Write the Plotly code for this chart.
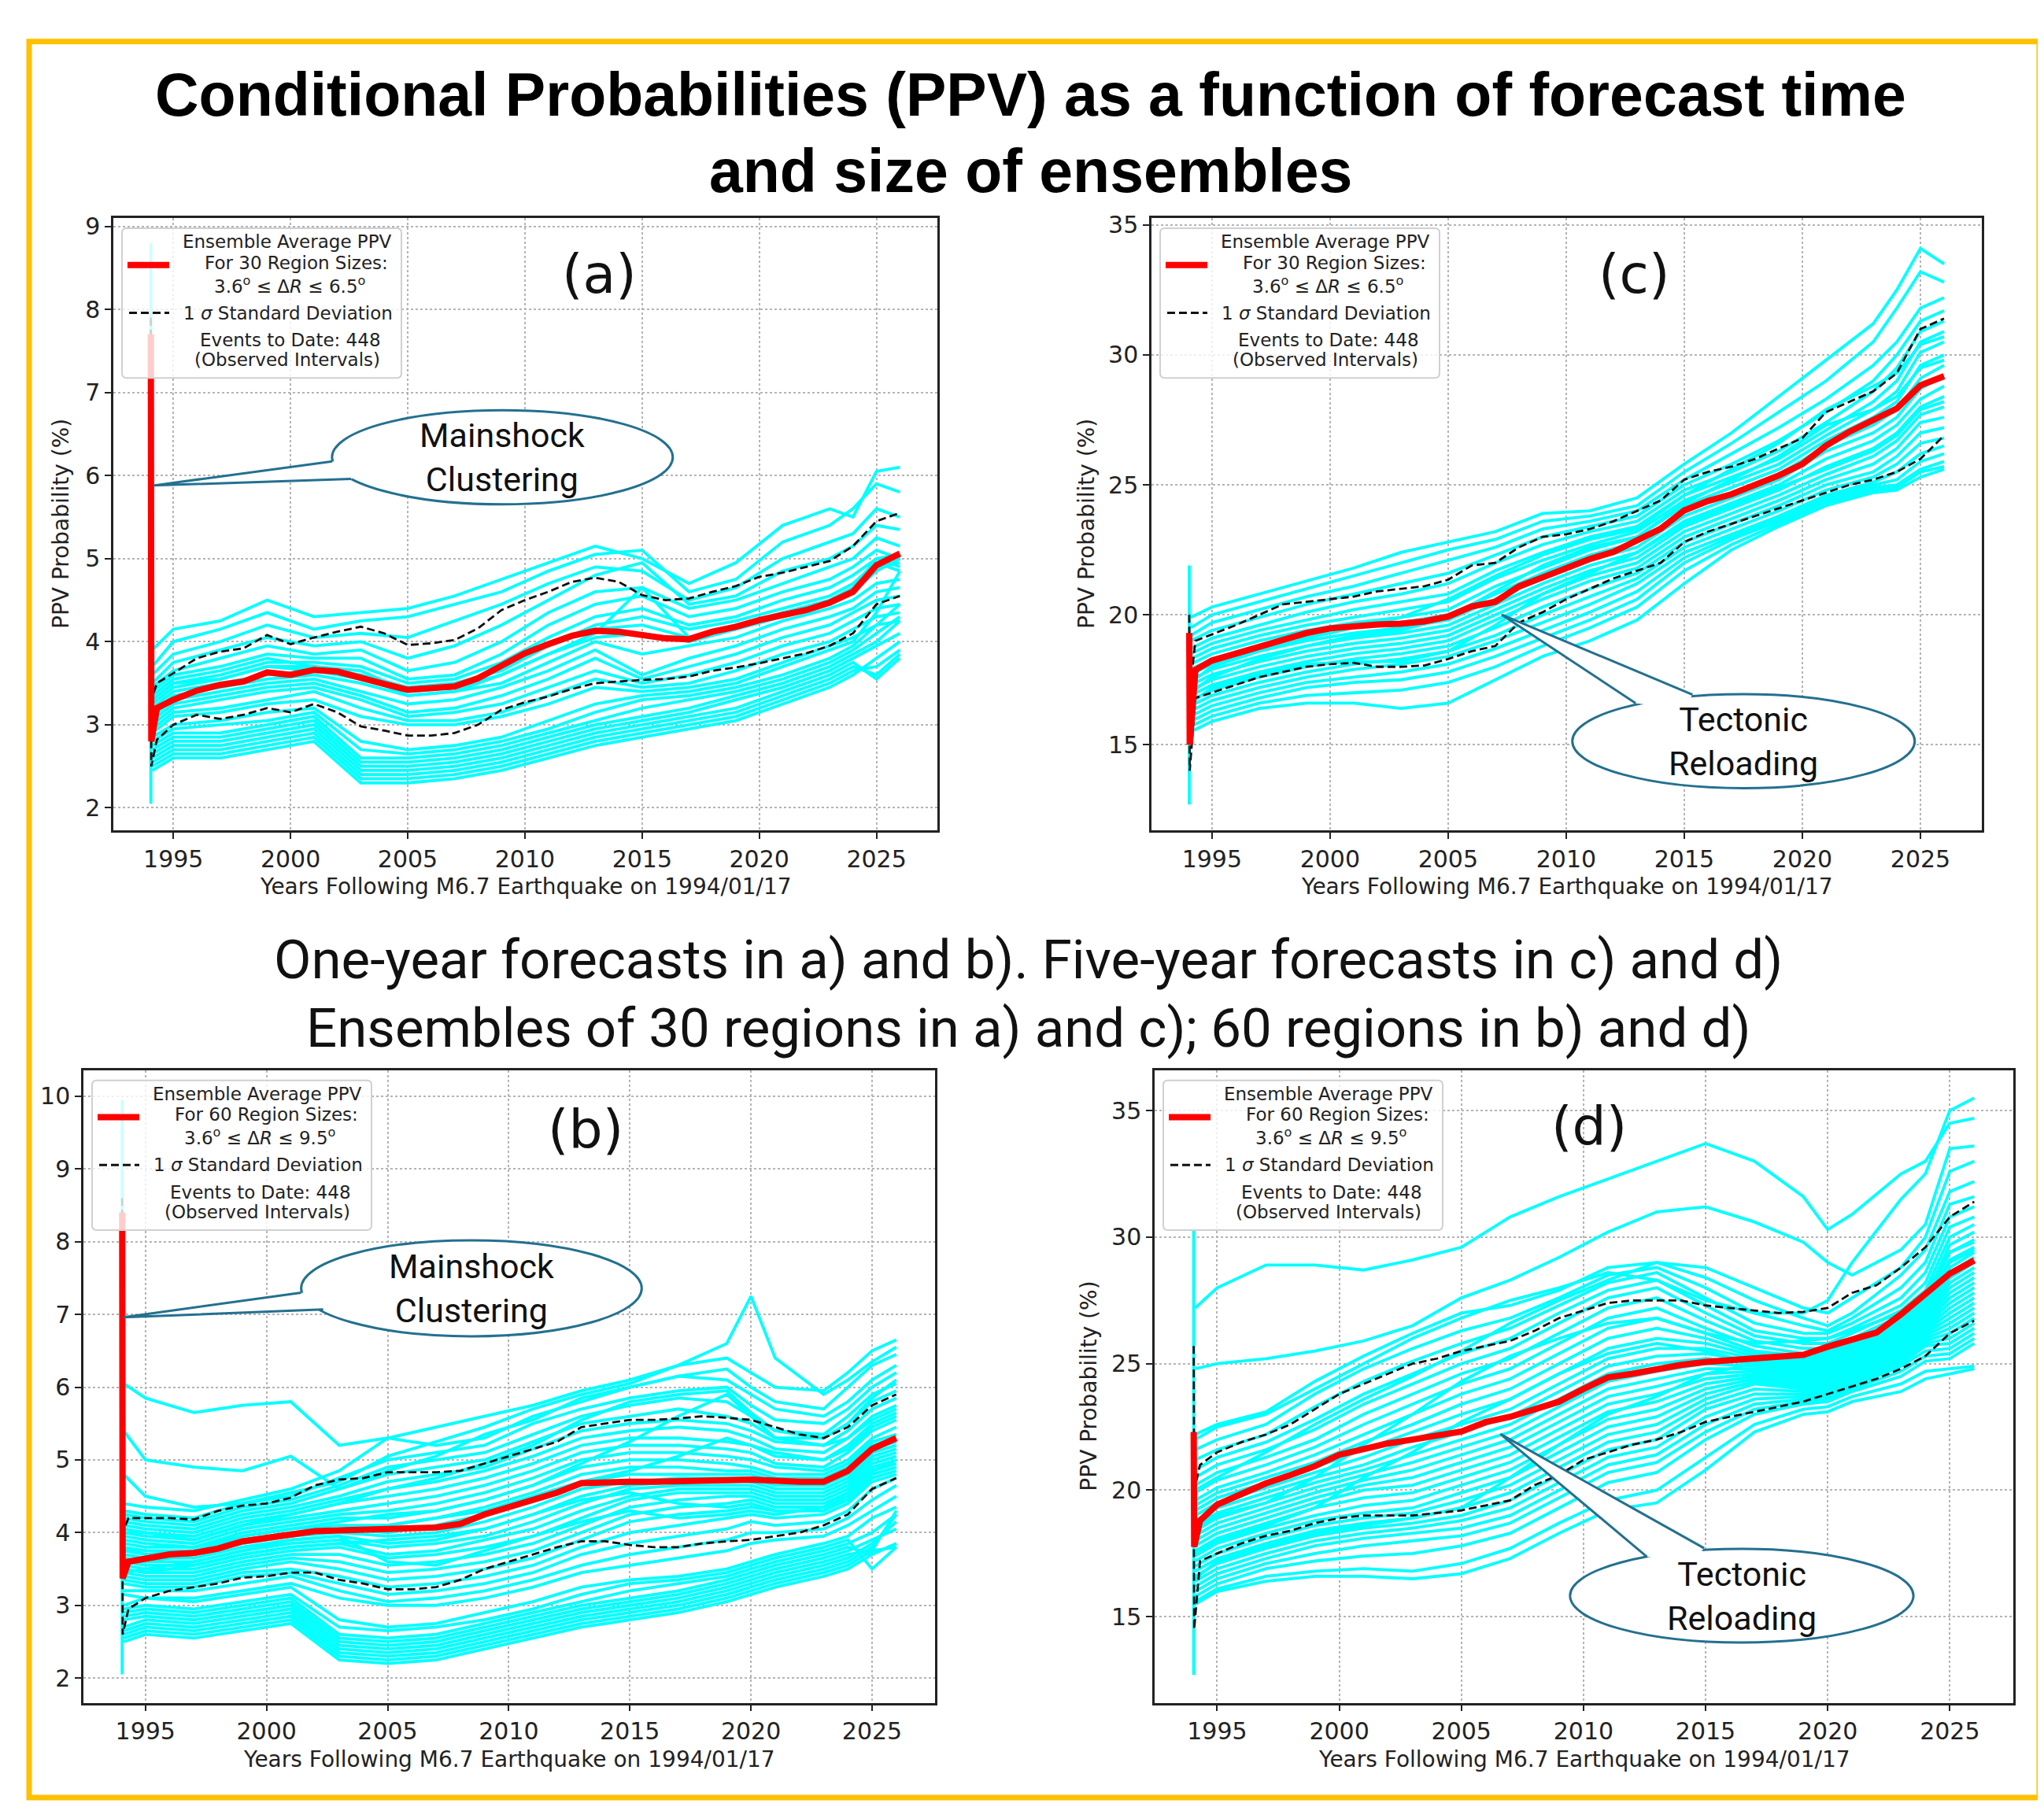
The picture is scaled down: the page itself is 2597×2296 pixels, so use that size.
import plotly.graph_objects as go

W, H = 2597, 2296

# x positions of the plotted samples
CURVE_YEARS_30 = [1994.1, 1995, 1997, 1999, 2001, 2003, 2005, 2007, 2009, 2011, 2013,
                  2015, 2017, 2019, 2021, 2023, 2024, 2025, 2026]
CURVE_YEARS_60 = [1994.1, 1995, 1997, 1999, 2001, 2003, 2005, 2007, 2009, 2011, 2013,
                  2015, 2017, 2019, 2020, 2021, 2023, 2024, 2025, 2026]
STAT_YEARS = [1994.04, 1994.06, 1994.3] + list(range(1995, 2027))
SPIKE_YEAR = 1994.04
YEAR_TICKS = [1995, 2000, 2005, 2010, 2015, 2020, 2025]

# ---- panel (a): one-year forecasts, 30 regions ----
MEAN_A = [7.7, 2.8, 3.2, 3.3, 3.41, 3.48, 3.52, 3.63, 3.6, 3.66, 3.64, 3.56, 3.49, 3.42, 3.44,
          3.46, 3.56, 3.72, 3.86, 3.97, 4.07, 4.13, 4.12, 4.08, 4.04, 4.03, 4.12, 4.18, 4.26,
          4.32, 4.38, 4.47, 4.6, 4.92, 5.06]
UPPER_A = [7.9, 3.3, 3.5, 3.62, 3.8, 3.88, 3.92, 4.08, 3.97, 4.05, 4.12, 4.18, 4.1, 3.96, 3.98,
           4.02, 4.16, 4.38, 4.5, 4.6, 4.72, 4.77, 4.72, 4.56, 4.5, 4.52, 4.6, 4.67, 4.78,
           4.83, 4.9, 4.97, 5.15, 5.45, 5.55]
LOWER_A = [7.5, 2.5, 2.82, 3.0, 3.12, 3.07, 3.12, 3.2, 3.15, 3.25, 3.15, 2.98, 2.93, 2.87, 2.87,
           2.9, 3.0, 3.18, 3.27, 3.34, 3.43, 3.5, 3.52, 3.54, 3.55, 3.58, 3.65, 3.69, 3.74,
           3.8, 3.86, 3.95, 4.1, 4.45, 4.55]
SPIKE_A = [2.05, 8.8]
CYAN_A = [
    [3.9, 4.15, 4.25, 4.5, 4.3, 4.35, 4.4, 4.55, 4.75, 4.95, 5.15, 5.0, 4.7, 4.95, 5.4, 5.6, 5.5, 6.05, 6.1],
    [3.7, 4.0, 4.15, 4.35, 4.15, 4.25, 4.3, 4.45, 4.6, 4.85, 5.05, 5.1, 4.6, 4.75, 5.2, 5.4, 5.6, 5.9, 5.8],
    [3.6, 3.85, 4.0, 4.2, 4.05, 4.1, 4.05, 4.25, 4.45, 4.7, 4.9, 4.85, 4.5, 4.65, 5.0, 5.2, 5.3, 5.6, 5.5],
    [3.5, 3.75, 3.9, 4.05, 3.95, 4.0, 3.8, 3.95, 4.2, 4.5, 4.8, 4.95, 4.45, 4.55, 4.85, 5.0, 5.15, 5.4, 5.35],
    [3.45, 3.65, 3.8, 3.95, 3.85, 3.9, 3.65, 3.75, 4.0, 4.35, 4.6, 4.65, 4.4, 4.5, 4.7, 4.9, 5.0, 5.25, 5.15],
    [3.4, 3.6, 3.7, 3.85, 3.8, 3.8, 3.55, 3.6, 3.85, 4.2, 4.45, 4.55, 4.3, 4.4, 4.6, 4.75, 4.9, 5.1, 5.0],
    [3.3, 3.5, 3.6, 3.75, 3.75, 3.7, 3.5, 3.55, 3.75, 4.05, 4.3, 4.4, 4.2, 4.3, 4.5, 4.65, 4.8, 5.0, 4.9],
    [3.25, 3.45, 3.55, 3.7, 3.7, 3.6, 3.45, 3.5, 3.65, 3.95, 4.2, 4.3, 4.15, 4.25, 4.4, 4.55, 4.7, 4.95, 4.85],
    [3.2, 3.4, 3.5, 3.6, 3.65, 3.55, 3.4, 3.45, 3.6, 3.85, 4.1, 4.65, 4.05, 4.15, 4.35, 4.45, 4.6, 4.85, 5.0],
    [3.15, 3.35, 3.45, 3.55, 3.6, 3.5, 3.35, 3.4, 3.5, 3.75, 4.0, 3.85, 3.95, 4.05, 4.25, 4.4, 4.5, 4.7, 4.75],
    [3.1, 3.3, 3.4, 3.5, 3.55, 3.4, 3.25, 3.3, 3.45, 3.65, 3.9, 3.6, 3.8, 3.95, 4.15, 4.3, 4.4, 4.6, 4.65],
    [3.05, 3.25, 3.35, 3.45, 3.5, 3.35, 3.15, 3.2, 3.35, 3.55, 3.8, 3.55, 3.7, 3.85, 4.05, 4.2, 4.35, 4.5, 4.55],
    [3.0, 3.2, 3.3, 3.4, 3.45, 3.3, 3.1, 3.15, 3.25, 3.45, 3.65, 3.5, 3.6, 3.75, 3.95, 4.1, 4.25, 4.4, 4.45],
    [2.95, 3.15, 3.2, 3.3, 3.4, 3.2, 3.05, 3.05, 3.15, 3.35, 3.55, 3.45, 3.5, 3.65, 3.85, 4.0, 4.15, 4.3, 4.35],
    [2.9, 3.1, 3.15, 3.25, 3.3, 3.1, 3.0, 3.0, 3.1, 3.25, 3.45, 3.4, 3.45, 3.55, 3.75, 3.95, 4.05, 4.2, 4.25],
    [2.85, 3.0, 3.05, 3.15, 3.2, 2.8, 2.7, 2.75, 2.85, 3.05, 3.25, 3.35, 3.4, 3.5, 3.7, 3.9, 4.0, 4.35, 4.85],
    [2.8, 2.95, 3.0, 3.05, 3.15, 2.7, 2.65, 2.7, 2.8, 2.95, 3.15, 3.3, 3.35, 3.45, 3.6, 3.8, 3.95, 4.2, 4.45],
    [2.75, 2.9, 2.9, 3.0, 3.1, 2.6, 2.6, 2.65, 2.75, 2.9, 3.05, 3.2, 3.3, 3.4, 3.55, 3.75, 3.9, 4.1, 4.3],
    [2.7, 2.85, 2.85, 2.95, 3.05, 2.55, 2.55, 2.6, 2.7, 2.85, 3.0, 3.1, 3.2, 3.35, 3.5, 3.7, 3.85, 4.0, 4.25],
    [2.65, 2.8, 2.8, 2.9, 3.0, 2.5, 2.5, 2.55, 2.65, 2.8, 2.95, 3.05, 3.15, 3.3, 3.45, 3.65, 3.8, 3.95, 4.1],
    [2.6, 2.75, 2.75, 2.85, 2.95, 2.45, 2.45, 2.5, 2.6, 2.75, 2.9, 3.0, 3.1, 3.2, 3.4, 3.6, 3.75, 3.55, 3.8],
    [2.55, 2.7, 2.7, 2.8, 2.9, 2.4, 2.4, 2.45, 2.55, 2.7, 2.85, 2.95, 3.05, 3.15, 3.35, 3.55, 3.7, 3.6, 3.85],
    [2.5, 2.65, 2.65, 2.75, 2.85, 2.35, 2.35, 2.4, 2.5, 2.65, 2.8, 2.9, 3.0, 3.1, 3.3, 3.5, 3.65, 3.7, 3.9],
    [2.45, 2.6, 2.6, 2.7, 2.8, 2.3, 2.3, 2.35, 2.45, 2.6, 2.75, 2.85, 2.95, 3.05, 3.25, 3.45, 3.6, 3.8, 4.0],
    [3.3, 3.5, 3.55, 3.7, 3.65, 3.6, 3.35, 3.4, 3.6, 3.85, 4.05, 4.1, 4.0, 4.15, 4.3, 4.45, 4.6, 4.9, 4.95],
    [3.35, 3.55, 3.65, 3.8, 3.7, 3.65, 3.4, 3.45, 3.7, 3.95, 4.15, 4.2, 4.05, 4.2, 4.35, 4.5, 4.65, 5.0, 5.05],
]

# ---- panel (c): five-year forecasts, 30 regions ----
MEAN_C = [19.3, 15.0, 17.88, 18.24, 18.5, 18.77, 19.04, 19.3, 19.48, 19.57, 19.63, 19.66, 19.75,
          19.93, 20.32, 20.5, 21.09, 21.44, 21.8, 22.15, 22.42, 22.86, 23.31, 24.02, 24.38,
          24.64, 25.0, 25.36, 25.8, 26.51, 27.05, 27.49, 27.94, 28.83, 29.18]
UPPER_C = [20.0, 17.0, 19.0, 19.25, 19.6, 20.0, 20.4, 20.5, 20.6, 20.7, 20.9, 21.0, 21.1, 21.35,
           21.9, 22.0, 22.6, 23.0, 23.1, 23.3, 23.6, 24.0, 24.4, 25.2, 25.5, 25.7, 26.0, 26.4,
           26.8, 27.8, 28.2, 28.6, 29.3, 31.0, 31.4]
LOWER_C = [18.6, 14.0, 16.8, 17.0, 17.3, 17.6, 17.8, 18.0, 18.1, 18.15, 18.0, 18.0, 18.05, 18.3,
           18.6, 18.8, 19.7, 20.1, 20.6, 21.0, 21.4, 21.7, 22.0, 22.8, 23.2, 23.5, 23.8, 24.1,
           24.4, 24.7, 25.0, 25.2, 25.5, 26.0, 26.9]
SPIKE_C = [12.7, 21.9]
CYAN_C = [
    [19.9, 20.3, 20.8, 21.3, 21.8, 22.4, 22.8, 23.2, 23.9, 24.0, 24.5, 25.8, 27.0, 28.4, 29.8, 31.2, 32.5, 34.1, 33.5],
    [19.5, 20.0, 20.5, 21.0, 21.5, 22.0, 22.5, 22.9, 23.6, 23.8, 24.2, 25.5, 26.6, 27.8, 29.0, 30.5, 31.8, 33.2, 32.8],
    [19.2, 19.7, 20.2, 20.7, 21.1, 21.6, 22.1, 22.6, 23.3, 23.6, 24.0, 25.2, 26.2, 27.2, 28.3, 29.6, 30.5, 31.8, 32.2],
    [19.0, 19.4, 19.9, 20.4, 20.8, 21.2, 21.6, 22.3, 23.0, 23.4, 23.8, 25.0, 25.8, 26.7, 27.8, 29.0, 30.0, 31.3, 31.7],
    [18.7, 19.1, 19.6, 20.1, 20.5, 20.8, 21.2, 22.0, 22.7, 23.2, 23.6, 24.8, 25.5, 26.3, 27.4, 28.6, 29.5, 30.9, 31.3],
    [18.5, 18.9, 19.4, 19.8, 20.2, 20.5, 20.8, 21.7, 22.4, 23.0, 23.4, 24.6, 25.3, 26.0, 27.1, 28.2, 29.0, 30.5, 30.9],
    [18.3, 18.7, 19.2, 19.6, 19.9, 20.2, 20.5, 21.4, 22.1, 22.7, 23.2, 24.4, 25.1, 25.8, 26.9, 27.9, 28.6, 30.1, 30.5],
    [18.1, 18.5, 19.0, 19.4, 19.7, 19.9, 20.2, 21.1, 21.8, 22.5, 23.0, 24.2, 24.9, 25.6, 26.7, 27.6, 28.2, 29.6, 30.0],
    [17.9, 18.3, 18.8, 19.2, 19.5, 19.7, 20.0, 20.8, 21.6, 22.3, 22.8, 24.0, 24.7, 25.4, 26.5, 27.3, 27.9, 29.1, 29.6],
    [17.7, 18.1, 18.6, 19.0, 19.3, 19.5, 19.8, 20.6, 21.4, 22.1, 22.6, 23.8, 24.5, 25.2, 26.3, 27.0, 27.6, 28.7, 29.2],
    [17.5, 17.9, 18.4, 18.8, 19.1, 19.3, 19.6, 20.4, 21.2, 21.9, 22.4, 23.6, 24.3, 25.0, 26.0, 26.7, 27.3, 28.3, 28.8],
    [17.3, 17.7, 18.2, 18.6, 18.9, 19.1, 19.4, 20.2, 21.0, 21.7, 22.2, 23.4, 24.1, 24.8, 25.7, 26.4, 27.0, 28.0, 28.4],
    [17.1, 17.5, 18.0, 18.4, 18.7, 18.9, 19.2, 20.0, 20.8, 21.5, 22.0, 23.2, 23.9, 24.6, 25.4, 26.1, 26.7, 27.7, 28.0],
    [16.9, 17.3, 17.8, 18.2, 18.5, 18.7, 19.0, 19.8, 20.6, 21.3, 21.8, 23.0, 23.7, 24.4, 25.2, 25.8, 26.4, 27.4, 27.6],
    [16.7, 17.1, 17.6, 18.0, 18.3, 18.5, 18.8, 19.5, 20.3, 21.0, 21.6, 22.8, 23.5, 24.2, 25.0, 25.5, 26.1, 27.0, 27.2],
    [16.5, 16.9, 17.4, 17.8, 18.1, 18.3, 18.6, 19.2, 20.0, 20.7, 21.4, 22.6, 23.3, 24.0, 24.8, 25.3, 25.8, 26.6, 26.8],
    [16.3, 16.7, 17.2, 17.6, 17.9, 18.1, 18.4, 19.0, 19.7, 20.4, 21.2, 22.4, 23.1, 23.8, 24.6, 25.1, 25.5, 26.2, 26.5],
    [16.1, 16.5, 17.0, 17.4, 17.6, 17.8, 18.1, 18.7, 19.4, 20.1, 20.9, 22.2, 23.0, 23.7, 24.5, 25.0, 25.2, 25.9, 26.2],
    [15.9, 16.3, 16.8, 17.2, 17.4, 17.5, 17.8, 18.4, 19.1, 19.8, 20.6, 22.0, 22.9, 23.6, 24.4, 24.9, 25.0, 25.6, 25.9],
    [15.7, 16.1, 16.6, 16.9, 17.0, 17.1, 17.4, 18.0, 18.8, 19.5, 20.3, 21.7, 22.7, 23.5, 24.3, 24.8, 24.9, 25.5, 25.7],
    [15.5, 15.9, 16.4, 16.6, 16.6, 16.4, 16.6, 17.5, 18.4, 19.0, 19.8, 21.2, 22.5, 23.4, 24.2, 24.7, 24.8, 25.3, 25.6],
    [17.4, 18.0, 18.6, 19.1, 19.5, 19.9, 20.6, 21.5, 22.3, 22.9, 23.3, 24.6, 25.6, 26.6, 27.9, 28.8, 29.3, 30.4, 30.7],
    [17.0, 17.6, 18.3, 18.8, 19.2, 19.4, 19.9, 20.9, 21.9, 22.6, 23.0, 24.3, 25.2, 26.1, 27.3, 27.9, 28.4, 29.5, 29.8],
    [16.6, 17.2, 17.7, 18.1, 18.2, 18.2, 18.6, 19.6, 20.8, 21.6, 22.4, 23.5, 24.2, 24.9, 25.6, 26.3, 26.9, 27.9, 28.2],
]

# ---- panel (b): one-year forecasts, 60 regions ----
MEAN_B = [8.4, 3.37, 3.6, 3.65, 3.7, 3.72, 3.78, 3.88, 3.92, 3.97, 4.02, 4.03, 4.04, 4.05, 4.05,
          4.07, 4.12, 4.25, 4.35, 4.45, 4.55, 4.68, 4.7, 4.7, 4.7, 4.7, 4.72, 4.72, 4.73, 4.71,
          4.7, 4.7, 4.85, 5.15, 5.3]
UPPER_B = [8.6, 4.0, 4.2, 4.2, 4.2, 4.18, 4.3, 4.37, 4.4, 4.48, 4.65, 4.73, 4.75, 4.83, 4.83,
           4.83, 4.85, 4.95, 5.05, 5.15, 5.25, 5.45, 5.5, 5.55, 5.55, 5.57, 5.6, 5.58, 5.55,
           5.45, 5.35, 5.3, 5.45, 5.75, 5.9]
LOWER_B = [8.2, 2.6, 2.95, 3.1, 3.2, 3.25, 3.3, 3.38, 3.4, 3.45, 3.45, 3.35, 3.3, 3.22, 3.22,
           3.25, 3.35, 3.5, 3.6, 3.7, 3.8, 3.88, 3.88, 3.83, 3.8, 3.8, 3.85, 3.88, 3.9, 3.95,
           4.0, 4.1, 4.25, 4.6, 4.75]
SPIKE_B = [2.05, 9.95]
CYAN_B = [
    [6.05, 5.85, 5.65, 5.75, 5.8, 5.2, 5.3, 5.45, 5.6, 5.75, 5.95, 6.1, 6.3, 6.4, 6.2, 6.0, 5.95, 6.2, 6.5, 6.65],
    [5.4, 5.0, 4.9, 4.85, 5.05, 4.6, 4.85, 5.05, 5.35, 5.55, 5.85, 6.0, 6.15, 6.25, 6.0, 5.8, 5.7, 6.0, 6.3, 6.45],
    [4.8, 4.5, 4.35, 4.4, 4.55, 4.7, 5.05, 5.25, 5.45, 5.7, 5.9, 6.05, 6.3, 6.6, 7.25, 6.4, 5.9, 6.1, 6.35, 6.55],
    [4.4, 4.35, 4.3, 4.45, 4.6, 4.85, 5.3, 5.2, 5.3, 5.6, 5.8, 6.0, 6.15, 6.1, 5.9, 5.7, 5.6, 5.8, 6.1, 6.3],
    [4.3, 4.25, 4.2, 4.4, 4.5, 4.75, 5.0, 5.1, 5.2, 5.5, 5.7, 5.85, 5.95, 6.0, 5.75, 5.55, 5.5, 5.7, 6.0, 6.2],
    [4.25, 4.2, 4.15, 4.35, 4.45, 4.65, 4.9, 5.0, 5.1, 5.35, 5.6, 5.75, 5.85, 5.8, 5.6, 5.4, 5.35, 5.6, 5.9, 6.05],
    [4.2, 4.15, 4.1, 4.3, 4.4, 4.6, 4.8, 4.9, 5.0, 5.25, 5.5, 5.6, 5.7, 5.6, 5.5, 5.3, 5.3, 5.5, 5.8, 5.95],
    [4.15, 4.1, 4.05, 4.25, 4.35, 4.5, 4.7, 4.8, 4.9, 5.15, 5.4, 5.5, 5.55, 5.5, 5.4, 5.25, 5.2, 5.4, 5.7, 5.85],
    [4.1, 4.05, 4.0, 4.2, 4.3, 4.45, 4.6, 4.7, 4.85, 5.05, 5.3, 5.4, 5.45, 5.4, 5.3, 5.15, 5.1, 5.3, 5.6, 5.75],
    [4.05, 4.0, 3.95, 4.15, 4.25, 4.4, 4.5, 4.6, 4.75, 4.95, 5.2, 5.3, 5.3, 5.25, 5.2, 5.05, 5.0, 5.2, 5.5, 5.65],
    [4.0, 3.95, 3.9, 4.1, 4.2, 4.3, 4.4, 4.5, 4.65, 4.85, 5.1, 5.2, 5.2, 5.15, 5.1, 4.95, 4.9, 5.1, 5.4, 5.55],
    [3.95, 3.9, 3.85, 4.05, 4.15, 4.25, 4.3, 4.4, 4.55, 4.75, 5.0, 5.1, 5.1, 5.05, 5.0, 4.9, 4.85, 5.0, 5.3, 5.45],
    [3.9, 3.85, 3.8, 4.0, 4.1, 4.2, 4.2, 4.3, 4.45, 4.65, 4.9, 5.0, 5.0, 4.95, 4.9, 4.8, 4.8, 4.95, 5.25, 5.35],
    [3.85, 3.8, 3.8, 3.95, 4.05, 4.1, 4.1, 4.2, 4.35, 4.55, 4.8, 4.9, 4.9, 4.85, 4.85, 4.75, 4.75, 4.9, 5.2, 5.3],
    [3.8, 3.75, 3.75, 3.9, 4.0, 4.05, 4.0, 4.1, 4.25, 4.45, 4.7, 4.8, 4.8, 4.8, 4.8, 4.7, 4.7, 4.85, 5.15, 5.25],
    [3.75, 3.7, 3.7, 3.85, 3.95, 4.0, 3.95, 4.0, 4.15, 4.35, 4.6, 4.7, 4.75, 4.75, 4.75, 4.65, 4.65, 4.8, 5.1, 5.2],
    [3.7, 3.65, 3.65, 3.8, 3.9, 3.95, 3.85, 3.9, 4.05, 4.25, 4.5, 4.65, 4.7, 4.7, 4.7, 4.6, 4.6, 4.75, 5.05, 5.15],
    [3.65, 3.6, 3.6, 3.75, 3.85, 3.9, 3.8, 3.85, 3.95, 4.15, 4.4, 4.6, 4.65, 4.65, 4.65, 4.55, 4.55, 4.7, 5.0, 5.1],
    [3.6, 3.55, 3.55, 3.7, 3.8, 3.85, 3.7, 3.75, 3.9, 4.05, 4.3, 4.5, 4.6, 4.6, 4.6, 4.5, 4.5, 4.65, 4.95, 5.05],
    [3.55, 3.5, 3.5, 3.65, 3.75, 3.8, 3.65, 3.7, 3.8, 3.95, 4.2, 4.45, 4.55, 4.55, 4.55, 4.45, 4.45, 4.6, 4.9, 5.0],
    [3.5, 3.45, 3.45, 3.6, 3.7, 3.7, 3.55, 3.6, 3.7, 3.85, 4.1, 4.35, 4.45, 4.5, 4.5, 4.4, 4.4, 4.55, 4.85, 4.95],
    [3.45, 3.4, 3.4, 3.55, 3.65, 3.6, 3.45, 3.5, 3.6, 3.75, 4.0, 4.25, 4.35, 4.4, 4.45, 4.35, 4.35, 4.5, 4.8, 4.9],
    [3.4, 3.35, 3.35, 3.5, 3.6, 3.5, 3.35, 3.4, 3.5, 3.65, 3.9, 4.15, 4.25, 4.3, 4.35, 4.3, 4.3, 4.45, 4.75, 4.85],
    [3.35, 3.3, 3.3, 3.45, 3.5, 3.4, 3.25, 3.3, 3.4, 3.55, 3.8, 4.0, 4.1, 4.2, 4.25, 4.2, 4.25, 4.4, 4.7, 4.8],
    [3.3, 3.25, 3.25, 3.4, 3.45, 3.3, 3.15, 3.2, 3.3, 3.45, 3.7, 3.85, 3.95, 4.05, 4.15, 4.1, 4.15, 4.3, 4.6, 4.75],
    [3.2, 3.2, 3.2, 3.3, 3.4, 3.2, 3.05, 3.1, 3.2, 3.35, 3.55, 3.7, 3.8, 3.9, 4.0, 4.0, 4.05, 4.2, 4.45, 4.65],
    [3.15, 3.1, 3.1, 3.2, 3.3, 3.1, 3.0, 3.0, 3.1, 3.25, 3.45, 3.55, 3.65, 3.75, 3.85, 3.9, 3.95, 4.1, 4.3, 4.5],
    [3.0, 3.1, 3.05, 3.15, 3.25, 2.8, 2.7, 2.75, 2.9, 3.05, 3.25, 3.35, 3.4, 3.5, 3.6, 3.7, 3.85, 3.95, 4.2, 4.35],
    [2.95, 3.0, 2.95, 3.05, 3.15, 2.7, 2.65, 2.7, 2.8, 2.95, 3.15, 3.3, 3.35, 3.45, 3.55, 3.65, 3.8, 3.9, 3.5, 3.8],
    [2.9, 2.95, 2.9, 3.0, 3.1, 2.6, 2.55, 2.6, 2.75, 2.9, 3.05, 3.2, 3.3, 3.4, 3.5, 3.6, 3.75, 3.85, 4.0, 4.25],
    [2.85, 2.9, 2.85, 2.95, 3.05, 2.55, 2.5, 2.55, 2.7, 2.85, 3.0, 3.1, 3.2, 3.35, 3.45, 3.55, 3.7, 3.8, 3.7, 3.85],
    [2.8, 2.85, 2.8, 2.9, 3.0, 2.5, 2.45, 2.5, 2.65, 2.8, 2.95, 3.05, 3.15, 3.3, 3.4, 3.5, 3.65, 3.75, 3.9, 4.05],
    [2.7, 2.8, 2.75, 2.85, 2.95, 2.45, 2.4, 2.45, 2.6, 2.75, 2.9, 3.0, 3.1, 3.25, 3.35, 3.45, 3.6, 3.7, 3.75, 3.8],
    [2.65, 2.75, 2.7, 2.8, 2.9, 2.4, 2.35, 2.4, 2.55, 2.7, 2.85, 2.95, 3.05, 3.2, 3.3, 3.4, 3.55, 3.65, 3.85, 4.15],
    [2.6, 2.7, 2.65, 2.75, 2.85, 2.35, 2.3, 2.35, 2.5, 2.65, 2.8, 2.9, 3.0, 3.15, 3.25, 3.35, 3.5, 3.6, 3.8, 4.25],
    [2.55, 2.65, 2.6, 2.7, 2.8, 2.3, 2.25, 2.3, 2.45, 2.6, 2.75, 2.85, 2.95, 3.1, 3.2, 3.3, 3.45, 3.55, 3.75, 4.3],
    [2.5, 2.6, 2.55, 2.65, 2.75, 2.25, 2.2, 2.25, 2.4, 2.55, 2.7, 2.8, 2.9, 3.05, 3.15, 3.25, 3.4, 3.5, 3.7, 3.85],
    [3.6, 3.6, 3.7, 3.85, 3.95, 4.05, 4.1, 4.2, 4.3, 4.5, 4.7, 4.85, 5.05, 5.3, 5.2, 5.1, 5.0, 5.15, 5.45, 5.6],
    [3.8, 3.7, 3.75, 3.95, 4.05, 4.15, 4.25, 4.3, 4.45, 4.65, 4.95, 5.25, 5.6, 5.9, 5.6, 5.3, 5.2, 5.3, 5.55, 5.7],
    [3.5, 3.45, 3.55, 3.7, 3.8, 3.85, 3.9, 3.95, 4.05, 4.25, 4.45, 4.55, 4.4, 4.35, 4.4, 4.3, 4.3, 4.5, 4.8, 4.9],
    [3.45, 3.5, 3.6, 3.75, 3.9, 3.95, 3.6, 3.55, 3.75, 3.95, 4.15, 4.3, 4.2, 4.25, 4.3, 4.25, 4.35, 4.55, 4.85, 5.0],
    [4.0, 4.0, 3.9, 4.1, 4.25, 4.4, 4.6, 4.75, 4.95, 5.2, 5.55, 5.8, 5.9, 5.95, 5.65, 5.4, 5.3, 5.5, 5.85, 6.1],
]

# ---- panel (d): five-year forecasts, 60 regions ----
MEAN_D = [22.3, 17.76, 18.8, 19.43, 19.85, 20.27, 20.6, 20.95, 21.4, 21.65, 21.85, 22.0, 22.15,
          22.32, 22.69, 22.9, 23.2, 23.5, 24.0, 24.46, 24.6, 24.78, 24.95, 25.07, 25.15, 25.2,
          25.3, 25.35, 25.67, 25.95, 26.23, 26.95, 27.72, 28.56, 29.08]
UPPER_D = [25.7, 20.0, 21.0, 21.5, 21.9, 22.2, 22.6, 23.2, 23.8, 24.2, 24.6, 25.0, 25.2, 25.5,
           25.7, 25.9, 26.3, 26.8, 27.1, 27.4, 27.5, 27.5, 27.5, 27.3, 27.2, 27.1, 27.0, 27.05,
           27.2, 27.8, 28.1, 28.8, 29.6, 30.8, 31.4]
LOWER_D = [20.0, 14.5, 17.2, 17.5, 17.9, 18.2, 18.4, 18.7, 18.9, 19.0, 19.0, 19.0, 19.1, 19.2,
           19.4, 19.6, 20.2, 20.6, 21.2, 21.5, 21.8, 22.0, 22.3, 22.7, 22.9, 23.1, 23.3, 23.5,
           23.8, 24.1, 24.4, 24.8, 25.3, 26.2, 26.7]
SPIKE_D = [12.7, 30.3]
CYAN_D = [
    [27.2, 28.0, 28.9, 28.9, 28.7, 29.1, 29.6, 30.8, 31.6, 32.3, 33.0, 33.7, 33.0, 31.6, 30.3, 30.9, 32.5, 33.0, 34.5, 34.7],
    [24.8, 25.0, 25.2, 25.5, 25.9, 26.5, 27.6, 28.3, 29.2, 30.2, 31.0, 31.2, 30.6, 29.8, 29.0, 28.5, 29.5, 30.5, 33.5, 33.6],
    [22.0, 22.5, 23.0, 24.0, 25.0, 26.0, 26.8, 27.5, 28.0, 28.6, 28.3, 27.5, 27.0, 27.0, 27.5, 29.0, 31.5, 32.5, 35.0, 35.5],
    [22.2, 22.6, 23.1, 24.3, 25.3, 26.2, 27.0, 27.3, 27.9, 28.8, 29.0, 28.4, 27.5, 26.8, 26.5, 27.0, 28.5, 29.5, 31.8, 32.2],
    [21.6, 22.0, 22.6, 23.8, 24.8, 25.6, 26.3, 26.8, 27.6, 28.5, 28.8, 28.0, 27.0, 26.5, 26.3, 26.8, 28.0, 29.0, 31.3, 31.6],
    [21.2, 21.6, 22.2, 23.3, 24.3, 25.1, 25.8, 26.4, 27.3, 28.2, 28.6, 27.6, 26.6, 26.2, 26.2, 26.6, 27.6, 28.6, 30.8, 31.2],
    [20.8, 21.3, 21.9, 22.8, 23.8, 24.6, 25.4, 26.0, 27.0, 27.9, 28.3, 27.3, 26.3, 26.0, 26.0, 26.4, 27.3, 28.2, 30.4, 30.8],
    [20.5, 21.0, 21.6, 22.4, 23.4, 24.2, 25.0, 25.6, 26.6, 27.6, 28.0, 27.0, 26.1, 25.8, 25.8, 26.2, 27.1, 27.9, 30.0, 30.5],
    [20.2, 20.7, 21.3, 22.0, 23.0, 23.8, 24.6, 25.2, 26.2, 27.2, 27.6, 26.7, 25.9, 25.6, 25.6, 26.0, 26.9, 27.6, 29.7, 30.2],
    [19.9, 20.4, 21.0, 21.7, 22.6, 23.4, 24.2, 24.8, 25.8, 26.8, 27.2, 26.4, 25.7, 25.4, 25.5, 25.9, 26.7, 27.4, 29.4, 29.9],
    [19.6, 20.1, 20.7, 21.4, 22.2, 23.0, 23.8, 24.4, 25.4, 26.4, 26.8, 26.2, 25.5, 25.3, 25.4, 25.8, 26.6, 27.3, 29.1, 29.6],
    [19.4, 19.9, 20.5, 21.1, 21.9, 22.6, 23.4, 24.0, 25.0, 26.0, 26.4, 26.0, 25.4, 25.2, 25.3, 25.7, 26.5, 27.2, 28.8, 29.4],
    [19.2, 19.7, 20.3, 20.9, 21.6, 22.3, 23.0, 23.6, 24.6, 25.6, 26.0, 25.8, 25.3, 25.1, 25.2, 25.6, 26.4, 27.1, 28.6, 29.2],
    [19.0, 19.5, 20.1, 20.7, 21.3, 22.0, 22.6, 23.2, 24.2, 25.2, 25.6, 25.6, 25.2, 25.0, 25.1, 25.5, 26.3, 27.0, 28.4, 29.0],
    [18.8, 19.3, 19.9, 20.5, 21.0, 21.7, 22.3, 22.9, 23.9, 24.9, 25.3, 25.4, 25.1, 24.9, 25.0, 25.4, 26.2, 26.9, 28.2, 28.8],
    [18.6, 19.1, 19.7, 20.3, 20.8, 21.4, 22.0, 22.6, 23.6, 24.6, 25.0, 25.2, 25.0, 24.8, 24.9, 25.3, 26.1, 26.8, 28.0, 28.6],
    [18.4, 18.9, 19.5, 20.1, 20.6, 21.1, 21.7, 22.3, 23.3, 24.3, 24.7, 25.0, 24.9, 24.7, 24.8, 25.2, 26.0, 26.7, 27.8, 28.4],
    [18.2, 18.7, 19.3, 19.9, 20.4, 20.8, 21.4, 22.0, 23.0, 24.0, 24.4, 24.8, 24.8, 24.6, 24.7, 25.1, 25.9, 26.6, 27.6, 28.2],
    [18.0, 18.5, 19.1, 19.7, 20.2, 20.5, 21.1, 21.7, 22.7, 23.7, 24.1, 24.6, 24.7, 24.5, 24.6, 25.0, 25.8, 26.5, 27.4, 28.0],
    [17.8, 18.3, 18.9, 19.5, 20.0, 20.2, 20.8, 21.4, 22.4, 23.4, 23.8, 24.4, 24.6, 24.4, 24.5, 24.9, 25.7, 26.4, 27.2, 27.8],
    [17.6, 18.1, 18.7, 19.3, 19.7, 19.9, 20.5, 21.1, 22.1, 23.1, 23.5, 24.2, 24.5, 24.3, 24.4, 24.8, 25.6, 26.3, 27.0, 27.6],
    [17.4, 17.9, 18.5, 19.0, 19.4, 19.6, 20.2, 20.8, 21.8, 22.8, 23.2, 24.0, 24.4, 24.2, 24.3, 24.7, 25.5, 26.2, 26.8, 27.4],
    [17.2, 17.7, 18.3, 18.8, 19.1, 19.3, 19.9, 20.5, 21.5, 22.5, 22.9, 23.8, 24.3, 24.1, 24.2, 24.6, 25.4, 26.1, 26.6, 27.2],
    [17.0, 17.5, 18.1, 18.6, 18.9, 19.1, 19.6, 20.2, 21.2, 22.2, 22.6, 23.6, 24.2, 24.0, 24.1, 24.5, 25.3, 26.0, 26.4, 27.0],
    [16.8, 17.3, 17.9, 18.4, 18.7, 18.9, 19.3, 19.9, 20.9, 21.9, 22.3, 23.4, 24.0, 23.9, 24.0, 24.4, 25.2, 25.9, 26.2, 26.8],
    [16.6, 17.1, 17.7, 18.2, 18.5, 18.7, 19.0, 19.6, 20.6, 21.6, 22.0, 23.2, 23.8, 23.8, 23.9, 24.3, 25.1, 25.8, 26.0, 26.6],
    [16.4, 16.9, 17.5, 18.0, 18.3, 18.5, 18.8, 19.3, 20.3, 21.3, 21.7, 22.9, 23.6, 23.7, 23.8, 24.2, 25.0, 25.7, 25.8, 26.4],
    [16.2, 16.7, 17.3, 17.8, 18.1, 18.3, 18.5, 19.0, 20.0, 21.0, 21.4, 22.6, 23.4, 23.6, 23.7, 24.1, 24.9, 25.5, 25.6, 26.2],
    [16.0, 16.5, 17.1, 17.5, 17.8, 18.0, 18.2, 18.7, 19.7, 20.7, 21.1, 22.3, 23.2, 23.5, 23.6, 24.0, 24.7, 25.3, 25.4, 26.0],
    [15.8, 16.3, 16.9, 17.2, 17.4, 17.5, 17.8, 18.3, 19.3, 20.3, 20.7, 22.0, 23.0, 23.4, 23.5, 23.9, 24.5, 25.1, 25.2, 25.8],
    [15.6, 16.1, 16.6, 16.8, 16.9, 16.8, 17.1, 17.7, 18.7, 19.6, 20.0, 21.3, 22.6, 23.2, 23.3, 23.7, 24.2, 24.7, 24.8, 24.9],
    [15.5, 16.0, 16.4, 16.6, 16.6, 16.5, 16.7, 17.3, 18.3, 19.2, 19.5, 20.8, 22.3, 23.0, 23.1, 23.5, 23.9, 24.4, 24.6, 24.8],
    [20.0, 20.5, 21.5, 22.6, 23.6, 24.5, 25.5, 26.6, 27.5, 28.3, 29.0, 28.8, 28.0, 27.2, 27.0, 27.6, 28.8, 30.0, 32.6, 33.0],
    [18.5, 19.0, 19.5, 20.5, 21.8, 23.0, 24.3, 25.3, 26.0, 26.6, 26.8, 26.2, 25.8, 25.9, 26.0, 26.3, 27.0, 27.8, 29.4, 29.8],
    [17.5, 18.0, 18.6, 19.3, 20.5, 21.5, 22.7, 23.6, 24.6, 25.4, 25.8, 25.5, 25.0, 24.9, 25.2, 25.8, 26.8, 27.5, 29.0, 29.5],
    [16.5, 17.2, 17.8, 18.3, 18.6, 18.9, 19.3, 20.5, 21.8, 23.0, 23.7, 24.6, 25.0, 25.1, 25.3, 25.6, 26.4, 27.2, 28.4, 29.0],
]

for name, grid, curves in [('a', CURVE_YEARS_30, CYAN_A), ('c', CURVE_YEARS_30, CYAN_C),
                           ('b', CURVE_YEARS_60, CYAN_B), ('d', CURVE_YEARS_60, CYAN_D)]:
    for k, c in enumerate(curves):
        assert len(c) == len(grid), (name, k, len(c))
for arr in [MEAN_A, UPPER_A, LOWER_A, MEAN_B, UPPER_B, LOWER_B,
            MEAN_C, UPPER_C, LOWER_C, MEAN_D, UPPER_D, LOWER_D]:
    assert len(arr) == len(STAT_YEARS), len(arr)

CYAN = '#00FFFF'
CALLOUT = '#23708f'
TXT = '#222222'


def px(x):
    return x / W


def py(y):
    return 1 - y / H


# panel frames in page pixels: left, right, top, bottom
PANELS = [
    dict(name='a', ax='', frame=(136, 1183, 261, 1042), yr=[1.73, 9.10], ytv=list(range(2, 10)),
         years=CURVE_YEARS_30, curves=CYAN_A, mean=MEAN_A, up=UPPER_A, lo=LOWER_A, spike=SPIKE_A,
         regions='30', dr='6.5', label='(a)', label_xy=(753, 333), ytitle=70,
         callout=dict(text='Mainshock<br>Clustering', c=(2009.04, 6.22), r=(7.27, 0.567),
                      tip=(1994.15, 5.88), b1=(2001.78, 6.17), b2=(2002.58, 5.96))),
    dict(name='c', ax='2', frame=(1455, 2510, 261, 1042), yr=[11.71, 35.27], ytv=[15, 20, 25, 30, 35],
         years=CURVE_YEARS_30, curves=CYAN_C, mean=MEAN_C, up=UPPER_C, lo=LOWER_C, spike=SPIKE_C,
         regions='30', dr='6.5', label='(c)', label_xy=(2068, 333), ytitle=1373,
         callout=dict(text='Tectonic<br>Reloading', c=(2017.51, 15.14), r=(7.25, 1.81),
                      tip=(2007.28, 20.0), b1=(2015.35, 16.93), b2=(2012.94, 16.6))),
    dict(name='b', ax='3', frame=(98, 1180, 1348, 2155), yr=[1.66, 10.36], ytv=list(range(2, 11)),
         years=CURVE_YEARS_60, curves=CYAN_B, mean=MEAN_B, up=UPPER_B, lo=LOWER_B, spike=SPIKE_B,
         regions='60', dr='9.5', label='(b)', label_xy=(736, 1424), ytitle=None,
         callout=dict(text='Mainshock<br>Clustering', c=(2008.46, 7.36), r=(7.03, 0.66),
                      tip=(1994.1, 6.96), b1=(2001.43, 7.30), b2=(2002.34, 7.07))),
    dict(name='d', ax='4', frame=(1459, 2550, 1348, 2155), yr=[11.6, 36.6], ytv=[15, 20, 25, 30, 35],
         years=CURVE_YEARS_60, curves=CYAN_D, mean=MEAN_D, up=UPPER_D, lo=LOWER_D, spike=SPIKE_D,
         regions='60', dr='9.5', label='(d)', label_xy=(2011, 1420), ytitle=1376,
         callout=dict(text='Tectonic<br>Reloading', c=(2016.48, 15.83), r=(7.03, 1.85),
                      tip=(2006.6, 22.22), b1=(2014.94, 17.71), b2=(2012.6, 17.37))),
]

fig = go.Figure()
shapes = []
annotations = []


def rounded_rect(x0, y0, x1, y1, r):
    pts = [('M', x0 + r, y0), ('L', x1 - r, y0), ('Q', x1, y0, x1, y0 + r), ('L', x1, y1 - r),
           ('Q', x1, y1, x1 - r, y1), ('L', x0 + r, y1), ('Q', x0, y1, x0, y1 - r),
           ('L', x0, y0 + r), ('Q', x0, y0, x0 + r, y0)]
    out = []
    for p in pts:
        cmd, vals = p[0], p[1:]
        coords = []
        for i in range(0, len(vals), 2):
            coords.append(f'{px(vals[i]):.5f},{py(vals[i + 1]):.5f}')
        out.append(cmd + ' '.join(coords))
    return ' '.join(out) + ' Z'


def text(x, y, s, size, family='DejaVu Sans', color=TXT, angle=0, **kw):
    annotations.append(dict(x=px(x), y=py(y), xref='paper', yref='paper', text=s, showarrow=False,
                            xanchor='center', yanchor='middle', textangle=angle,
                            font=dict(family=family, size=size, color=color), **kw))


for p in PANELS:
    ax = p['ax']
    xa, ya = 'x' + ax, 'y' + ax
    l, r, t, b = p['frame']

    for c in p['curves']:
        fig.add_trace(go.Scatter(x=p['years'], y=c, mode='lines', xaxis=xa, yaxis=ya,
                                 line=dict(color=CYAN, width=3.8), hoverinfo='skip'))
    fig.add_trace(go.Scatter(x=[SPIKE_YEAR, SPIKE_YEAR], y=p['spike'], mode='lines', xaxis=xa, yaxis=ya,
                             line=dict(color=CYAN, width=3.8), hoverinfo='skip'))
    for s in (p['up'], p['lo']):
        fig.add_trace(go.Scatter(x=STAT_YEARS, y=s, mode='lines', xaxis=xa, yaxis=ya,
                                 line=dict(color='#111111', width=2.8, dash='10px,5px'), hoverinfo='skip'))
    fig.add_trace(go.Scatter(x=STAT_YEARS, y=p['mean'], mode='lines', xaxis=xa, yaxis=ya,
                             line=dict(color='#ff0000', width=8), hoverinfo='skip'))

    axis_common = dict(showline=True, linecolor='#222222', linewidth=2.5, mirror=True,
                       ticks='outside', ticklen=8, tickwidth=2, tickcolor='#222222',
                       showgrid=True, gridcolor='#b4b4b4', gridwidth=1.6, griddash='3px,3px',
                       zeroline=False, tickfont=dict(family='DejaVu Sans', size=30, color=TXT))
    fig.update_layout(**{
        'xaxis' + ax: dict(domain=[px(l), px(r)], range=[1992.44, 2027.6], tickvals=YEAR_TICKS,
                           anchor=ya, **axis_common),
        'yaxis' + ax: dict(domain=[py(b), py(t)], range=p['yr'], tickvals=p['ytv'],
                           anchor=xa, **axis_common),
    })

    # axis titles
    text((l + r) / 2, b + 72, 'Years Following M6.7 Earthquake on 1994/01/17', 28)
    if p['ytitle']:
        text(p['ytitle'], (t + b) / 2, 'PPV Probability (%)', 28, angle=-90)
    text(p['label_xy'][0], p['label_xy'][1], p['label'], 68, color='#111111')

    # legend box
    shapes.append(dict(type='path', path=rounded_rect(l + 11, t + 13, l + 366, t + 204, 6),
                       xref='paper', yref='paper', fillcolor='rgba(255,255,255,0.8)',
                       line=dict(color='#d0d0d0', width=2), layer='above'))
    shapes.append(dict(type='line', x0=px(l + 18), x1=px(l + 71), y0=py(t + 60), y1=py(t + 60),
                       xref='paper', yref='paper', line=dict(color='#ff0000', width=8), layer='above'))
    shapes.append(dict(type='line', x0=px(l + 20), x1=px(l + 71), y0=py(t + 121), y1=py(t + 121),
                       xref='paper', yref='paper', line=dict(color='#111111', width=2.8, dash='10px,5px'),
                       layer='above'))
    lg = 23
    text(l + 221, t + 30, 'Ensemble Average PPV', lg)
    text(l + 232, t + 57, f'For {p["regions"]} Region Sizes:', lg)
    text(l + 224, t + 85, f'3.6<sup>o</sup> ≤ Δ<i>R</i> ≤ {p["dr"]}<sup>o</sup>', lg)
    text(l + 222, t + 121, '1 <i>σ</i> Standard Deviation', lg)
    text(l + 225, t + 156, 'Events to Date: 448', lg)
    text(l + 221, t + 181, '(Observed Intervals)', lg)

    # speech-bubble callout
    co = p['callout']
    cx, cy = co['c']
    rx, ry = co['r']
    shapes.append(dict(type='circle', xref=xa, yref=ya, x0=cx - rx, x1=cx + rx, y0=cy - ry, y1=cy + ry,
                       fillcolor='white', line=dict(color=CALLOUT, width=3), layer='above'))
    (b1x, b1y), (b2x, b2y), (tx, ty) = co['b1'], co['b2'], co['tip']
    ix = cx + 0.75 * ((b1x + b2x) / 2 - cx)
    iy = cy + 0.75 * ((b1y + b2y) / 2 - cy)
    shapes.append(dict(type='path', xref=xa, yref=ya, layer='above', fillcolor='white',
                       line=dict(width=0),
                       path=f'M{b1x},{b1y} L{tx},{ty} L{b2x},{b2y} L{ix},{iy} Z'))
    shapes.append(dict(type='path', xref=xa, yref=ya, layer='above',
                       line=dict(color=CALLOUT, width=3),
                       path=f'M{b1x},{b1y} L{tx},{ty} L{b2x},{b2y}'))
    annotations.append(dict(x=cx, y=cy, xref=xa, yref=ya, text=co['text'], showarrow=False,
                            xanchor='center', yanchor='middle',
                            font=dict(family='Roboto', size=43, color='#111111')))

# headings
text(1301, 103, '<b>Conditional Probabilities (PPV) as a function of forecast time</b>', 77,
     family='Liberation Sans', color='#000000')
text(1301, 201, '<b>and size of ensembles</b>', 77, family='Liberation Sans', color='#000000')
text(1299, 1207, 'One-year forecasts in a) and b). Five-year forecasts in c) and d)', 69,
     family='Roboto', color='#111111')
text(1299, 1295, 'Ensembles of 30 regions in a) and c); 60 regions in b) and d)', 69,
     family='Roboto', color='#111111')

# gold frame around the whole slide
shapes.append(dict(type='rect', xref='paper', yref='paper', x0=px(29), x1=px(2583), y0=py(36), y1=py(2276),
                   line=dict(color='#FFC000', width=7), fillcolor='rgba(0,0,0,0)', layer='above'))

fig.update_layout(width=W, height=H, margin=dict(l=0, r=0, t=0, b=0), showlegend=False,
                  paper_bgcolor='white', plot_bgcolor='white', shapes=shapes, annotations=annotations)

fig.write_html('out.html')
